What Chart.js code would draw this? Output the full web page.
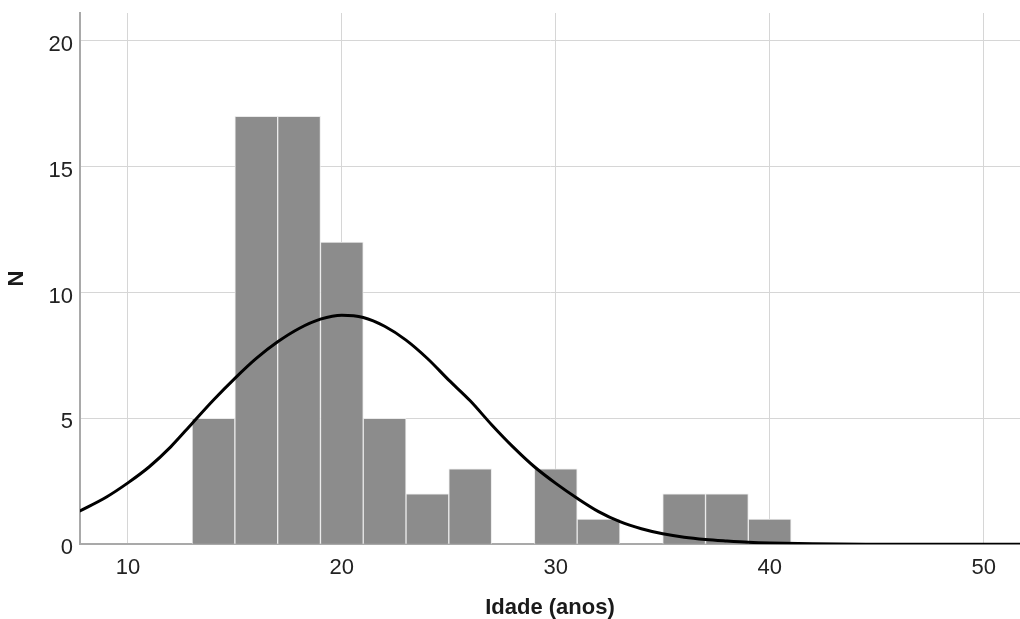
<!DOCTYPE html>
<html>
<head>
<meta charset="utf-8">
<script src="https://cdn.jsdelivr.net/npm/chart.js@4/dist/chart.umd.min.js"></script>
<style>
  html, body { margin: 0; padding: 0; background: #fff; }
  #wrap { width: 1020px; height: 619px; }
</style>
</head>
<body>
<div id="wrap"><canvas id="myChart" width="1020" height="619"></canvas></div>
<script>
// histogram bins (width 2), centre of each bin
const binCenters = [14, 16, 18, 20, 22, 24, 26, 28, 30, 32, 34, 36, 38, 40];
const counts = [5, 17, 17, 12, 5, 2, 3, 0, 3, 1, 0, 2, 2, 1];

// normal curve
const curveX = [7.7, 9, 10, 11, 12, 13, 14, 15, 16, 17, 18, 19, 20, 21, 22, 23, 24, 25,
  26, 27, 28, 29, 30, 31, 32, 33, 34, 35, 36, 37, 38, 39, 40, 42, 45, 48, 52];
const curveN = [1.30, 1.88, 2.44, 3.08, 3.87, 4.80, 5.73, 6.59, 7.38, 8.04, 8.57, 8.94, 9.10, 9.01, 8.66, 8.11, 7.38, 6.52,
  5.70, 4.75, 3.87, 3.08, 2.42, 1.83, 1.30, 0.90, 0.62, 0.42, 0.28, 0.19, 0.13, 0.08, 0.05, 0.02, 0.005, 0, 0];

const xTicks = [10, 20, 30, 40, 50];
const yTicks = [0, 5, 10, 15, 20];
const xTitle = 'Idade (anos)';
const yTitle = 'N';

const fontFamily = '"Liberation Sans", Arial, sans-serif';
const ctx = document.getElementById('myChart').getContext('2d');

const barData = binCenters.map((x, i) => ({ x: x, y: counts[i] }));
const curveData = curveX.map((x, i) => ({ x: x, y: curveN[i] }));

const myChart = new Chart(ctx, {
    type: 'bar',
    data: {
        datasets: [
            {
                type: 'line',
                data: curveData,
                borderColor: '#000000',
                borderWidth: 3,
                pointRadius: 0,
                cubicInterpolationMode: 'monotone',
                fill: false,
                order: 0,
            },
            {
                type: 'bar',
                data: barData,
                backgroundColor: '#8c8c8c',
                borderColor: '#eaeaea',
                borderWidth: 1,
                barPercentage: 1,
                categoryPercentage: 1,
                order: 1,
            },
        ],
    },
    options: {
        responsive: false,
        animation: false,
        devicePixelRatio: 1,
        layout: { padding: { top: 13, left: 0, right: 0, bottom: 0 } },
        plugins: {
            legend: { display: false },
            tooltip: { enabled: false },
        },
        scales: {
            x: {
                type: 'linear',
                min: 7.76,
                max: 51.7,
                offset: false,
                afterBuildTicks: (scale) => {
                    scale.ticks = xTicks.map((v) => ({ value: v }));
                },
                afterFit: (scale) => {
                    scale.height = 74.7;
                    scale.paddingLeft = 0;
                    scale.paddingRight = 0;
                },
                grid: { color: '#d6d6d6', lineWidth: 1, drawTicks: false, offset: false },
                border: { display: true, color: '#a9a9a9', width: 2 },
                ticks: {
                    padding: 10,
                    color: '#222222',
                    font: { family: fontFamily, size: 22 },
                    maxRotation: 0,
                },
                title: {
                    display: true,
                    text: xTitle,
                    color: '#1a1a1a',
                    font: { family: fontFamily, size: 22, weight: 'bold', lineHeight: 1.05 },
                    padding: { top: 12, bottom: 0 },
                },
            },
            y: {
                type: 'linear',
                min: 0,
                max: 21.1,
                afterBuildTicks: (scale) => {
                    scale.ticks = yTicks.map((v) => ({ value: v }));
                },
                afterFit: (scale) => {
                    scale.width = 80;
                    scale.paddingTop = 0;
                    scale.paddingBottom = 0;
                },
                grid: { color: '#d6d6d6', lineWidth: 1, drawTicks: false },
                border: { display: true, color: '#a9a9a9', width: 2 },
                ticks: {
                    padding: 7,
                    labelOffset: 4,
                    color: '#222222',
                    font: { family: fontFamily, size: 22 },
                },
                title: {
                    display: true,
                    text: yTitle,
                    color: '#1a1a1a',
                    font: { family: fontFamily, size: 22, weight: 'bold' },
                    padding: { top: 4, bottom: 18 },
                },
            },
        },
    },
});
</script>
</body>
</html>
